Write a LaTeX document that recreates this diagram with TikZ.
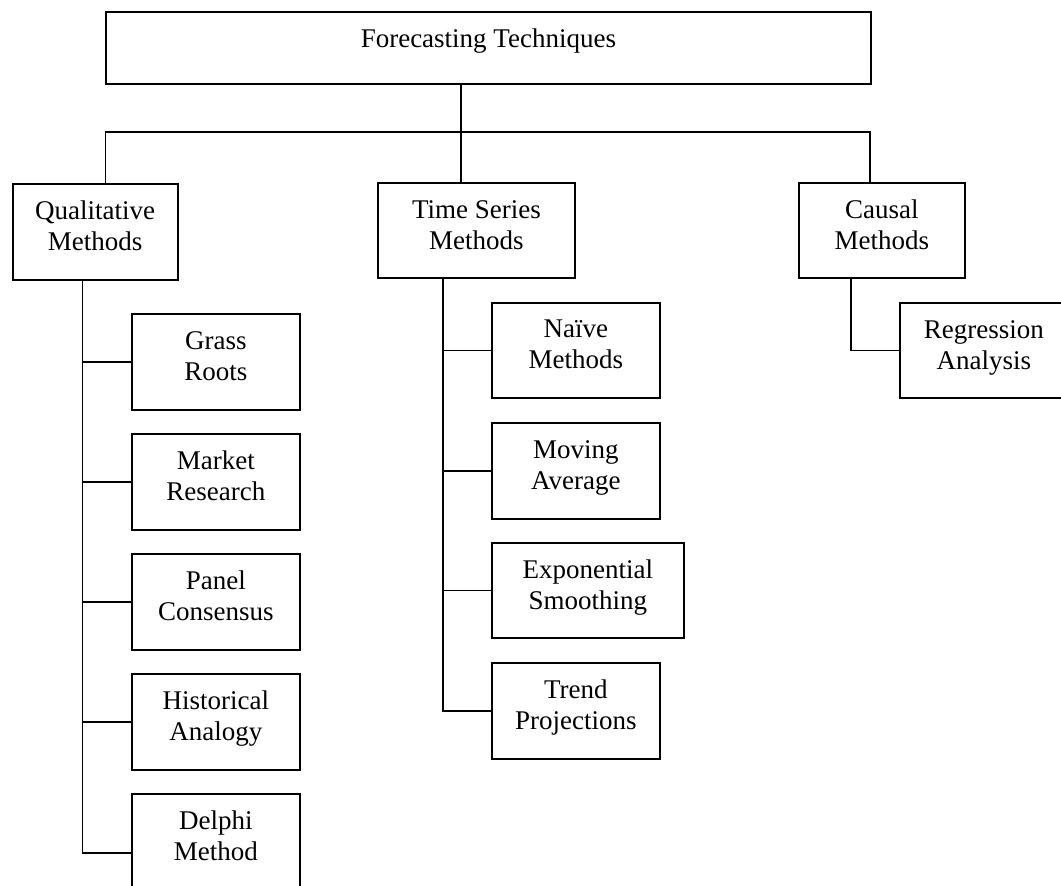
\documentclass[tikz,border=0pt]{standalone}
\usepackage{fontspec}
\setmainfont{Liberation Serif}
\begin{document}
\begin{tikzpicture}[x=1pt,y=1pt,
  box/.style={draw=black, line width=1.8pt, anchor=north west, inner sep=0pt},
  txt/.style={anchor=north, inner sep=0pt, align=center, font=\fontsize{27}{31}\selectfont},
  conn/.style={draw=black, line width=1.8pt}]
\clip (0,0) rectangle (1061,-886);
% boxes
\node[box, minimum width=765pt, minimum height=72pt] (top) at (105,-11) {};
\node[box, minimum width=165pt, minimum height=96pt] (qual) at (11.7,-183) {};
\node[box, minimum width=197pt, minimum height=95pt] (ts) at (377,-182) {};
\node[box, minimum width=166pt, minimum height=95pt] (caus) at (798,-182) {};
\node[box, minimum width=168pt, minimum height=96pt] (gr) at (131,-313) {};
\node[box, minimum width=168pt, minimum height=96pt] (mr) at (131,-433) {};
\node[box, minimum width=168pt, minimum height=96pt] (pc) at (131,-553) {};
\node[box, minimum width=168pt, minimum height=96pt] (ha) at (131,-673) {};
\node[box, minimum width=168pt, minimum height=100pt] (dm) at (131,-793) {};
\node[box, minimum width=168pt, minimum height=95pt] (nm) at (491,-302) {};
\node[box, minimum width=168pt, minimum height=96pt] (ma) at (491,-422) {};
\node[box, minimum width=192pt, minimum height=95pt] (es) at (491,-542) {};
\node[box, minimum width=168pt, minimum height=96pt] (tp) at (491,-662) {};
\node[box, minimum width=168pt, minimum height=95pt] (ra) at (899,-302) {};
% texts
\node[txt] (topT) at ([yshift=-18pt]top.north) {Forecasting Techniques};
\node[txt] (qualT) at ([yshift=-18pt]qual.north) {Qualitative\\Methods};
\node[txt] (tsT) at ([yshift=-18pt]ts.north) {Time Series\\Methods};
\node[txt] (causT) at ([yshift=-18pt]caus.north) {Causal\\Methods};
\node[txt] (grT) at ([yshift=-18pt]gr.north) {Grass\\Roots};
\node[txt] (mrT) at ([yshift=-18pt]mr.north) {Market\\Research};
\node[txt] (pcT) at ([yshift=-18pt]pc.north) {Panel\\Consensus};
\node[txt] (haT) at ([yshift=-18pt]ha.north) {Historical\\Analogy};
\node[txt] (dmT) at ([yshift=-18pt]dm.north) {Delphi\\Method};
\node[txt] (nmT) at ([yshift=-18pt]nm.north) {Naïve\\Methods};
\node[txt] (maT) at ([yshift=-18pt]ma.north) {Moving\\Average};
\node[txt] (esT) at ([yshift=-18pt]es.north) {Exponential\\Smoothing};
\node[txt] (tpT) at ([yshift=-18pt]tp.north) {Trend\\Projections};
\node[txt] (raT) at ([yshift=-18pt]ra.north) {Regression\\Analysis};
% junction coordinates
\coordinate (hub) at (461,-131.7);
\coordinate (busL) at (105.5,-131.7);
\coordinate (busR) at (870,-131.7);
\coordinate (qs) at (82.5,0);
\coordinate (tsp) at (443,0);
\coordinate (cs) at (851,0);
\coordinate (dmc) at (82.5,-853);
% top level connectors
\draw[conn] (hub |- top.south) -- (hub |- ts.north);
\draw[conn] (busL |- qual.north) -- (busL) -- (busR) -- (busR |- caus.north);
% qualitative
\draw[conn] (qs |- qual.south) -- (dmc) -- (dmc -| dm.west);
\draw[conn] (qs |- gr.west) -- (gr.west);
\draw[conn] (qs |- mr.west) -- (mr.west);
\draw[conn] (qs |- pc.west) -- (pc.west);
\draw[conn] (qs |- ha.west) -- (ha.west);
% time series
\draw[conn] (tsp |- ts.south) -- (tsp |- tp.west) -- (tp.west);
\draw[conn] (tsp |- nm.west) -- (nm.west);
\draw[conn] (tsp |- ma.west) -- (ma.west);
\draw[conn] (tsp |- es.west) -- (es.west);
% causal
\draw[conn] (cs |- caus.south) -- (cs |- ra.west) -- (ra.west);
\end{tikzpicture}
\end{document}
